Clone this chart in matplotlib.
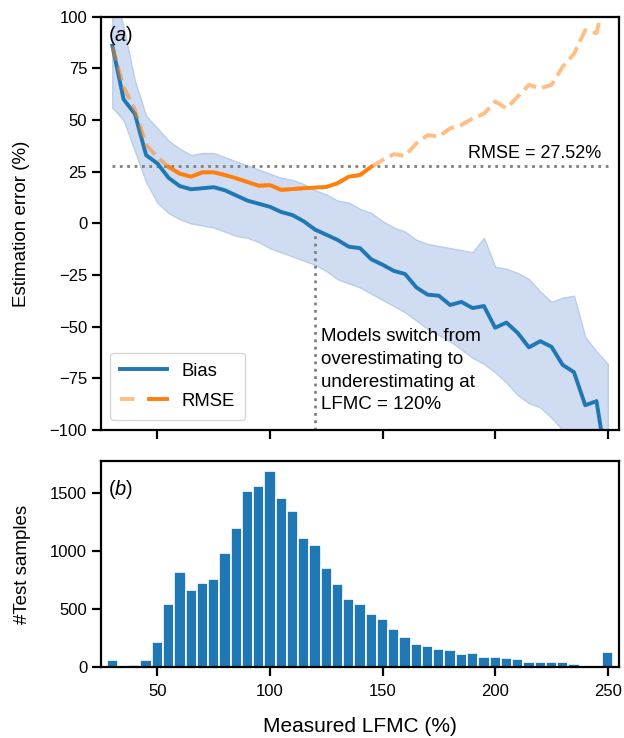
import numpy as np
import matplotlib
matplotlib.use('Agg')
import matplotlib.pyplot as plt
from matplotlib.legend_handler import HandlerTuple

plt.rcParams['font.family'] = ['Liberation Sans', 'DejaVu Sans']
plt.rcParams['mathtext.fontset'] = 'custom'
plt.rcParams['mathtext.rm'] = 'Liberation Sans'
plt.rcParams['mathtext.it'] = 'Liberation Sans:italic'
plt.rcParams['font.size'] = 12

# LFMC bins (centre of each 5% bin)
lfmc = np.arange(30, 255, 5)

bias = [86, 60, 53, 33, 29, 22, 18, 16.5, 17, 17.5, 16, 13.5, 11, 9.5, 8,
        5.5, 4, 1, -3, -5.5, -8, -11.3, -12, -17.4, -20, -23, -24.5, -31,
        -34.5, -35, -39.5, -38, -41, -40, -50.5, -48, -53, -60, -57, -59.7,
        -68.5, -72, -88, -86, -120]
bias_hi = [115, 95, 69, 52, 46, 40, 36, 33, 34, 34, 32, 30, 28, 26, 24, 22,
           21, 19, 16, 14, 11, 10, 7, 5, 1, -2, -4, -8, -10, -11, -12, -13,
           -14, -7, -21, -22, -24, -27, -33, -38, -36, -35, -55, -62, -68]
bias_lo = [56, 50, 35, 20, 10, 5, 2, 0, -1, -2, -4, -6, -7, -9, -12, -14,
           -16, -18, -20, -23, -27, -29, -31, -34, -37, -40, -43, -47, -51,
           -54, -57, -61, -65, -68, -72, -77, -83, -87, -89, -94, -100, -108,
           -115, -120, -130]
rmse = [85.5, 66, 55, 38, 32, 27.3, 24, 22.6, 24.7, 24.7, 23.4, 21.8, 20,
        18.2, 18.5, 16.2, 16.6, 17, 17.3, 17.6, 19.4, 22.6, 23.4, 27.4, 30.6,
        33.5, 32.6, 38.7, 42.7, 42, 46, 47.6, 50.8, 53, 59, 55.6, 61.3, 67,
        65.3, 67, 75.8, 82, 93.5, 92, 115]
counts = [66, 11, 17, 66, 220, 546, 820, 660, 723, 754, 980, 1197, 1509,
          1560, 1686, 1451, 1340, 1109, 1049, 851, 711, 589, 540, 460, 411,
          326, 263, 203, 183, 154, 146, 117, 123, 91, 91, 80, 71, 43, 49, 49,
          43, 29, 11, 6, 129]

overall_rmse = 27.52
switch_lfmc = 120

bias = np.array(bias)
rmse = np.array(rmse)

fig = plt.figure(figsize=(6.24, 7.38), dpi=100)
ax1 = fig.add_axes([0.162, 0.4173, 0.83, 0.5601])
ax2 = fig.add_axes([0.162, 0.0958, 0.83, 0.2795], sharex=ax1)

# (a) bias and RMSE by LFMC bin
ax1.fill_between(lfmc, bias_lo, bias_hi, facecolor='#cfdcf1', edgecolor='#b9cdea', lw=1)
ax1.hlines(overall_rmse, lfmc[0], lfmc[-1], colors='grey', linestyles=':', lw=2)
sw = np.where(lfmc == switch_lfmc)[0][0]
ax1.vlines(switch_lfmc, -100, bias[sw], colors='grey', linestyles=':', lw=2)
bias_line, = ax1.plot(lfmc, bias, color='C0', lw=2.8)
rmse_hi, = ax1.plot(lfmc, rmse, color='C1', alpha=0.5, lw=2.8, ls='--')
rmse_lo, = ax1.plot(lfmc, np.where(rmse <= overall_rmse, rmse, np.nan),
                    color='C1', lw=2.8)
ax1.text(247, overall_rmse + 2, f'RMSE = {overall_rmse}%', ha='right', va='bottom',
         fontsize=13)
ax1.text(switch_lfmc + 2.5, -92,
         'Models switch from\noverestimating to\nunderestimating at\nLFMC = 120%',
         ha='left', va='bottom', fontsize=13.5, linespacing=1.46)
ax1.text(28, 91, r'($a$)', ha='left', va='center', fontsize=14.5)
ax1.set_ylim(-100, 100)
ax1.set_yticks([-100, -75, -50, -25, 0, 25, 50, 75, 100])
ax1.set_ylabel('Estimation error (%)', fontsize=13.5, labelpad=14)
ax1.legend([bias_line, (rmse_hi, rmse_lo)], ['Bias', 'RMSE'],
           handler_map={tuple: HandlerTuple(ndivide=None)},
           loc='lower left', fontsize=13.3, handlelength=2.5, borderpad=0.55,
           labelspacing=0.7, bbox_to_anchor=(0.0, 0.002))
plt.setp(ax1.get_xticklabels(), visible=False)

# (b) number of test samples per bin
ax2.bar(lfmc, counts, width=5, color='C0', edgecolor='white', lw=1.2)
ax2.text(28, 1530, r'($b$)', ha='left', va='center', fontsize=14.5)
ax2.set_xlim(25, 255)
ax2.set_xticks([50, 100, 150, 200, 250])
ax2.set_yticks([0, 500, 1000, 1500])
ax2.set_ylabel('#Test samples', fontsize=13.5, labelpad=14)
ax2.set_xlabel('Measured LFMC (%)', fontsize=15, labelpad=13)

for ax in (ax1, ax2):
    for s in ax.spines.values():
        s.set_linewidth(1.6)
    ax.tick_params(direction='out', length=6.5, width=1.6, labelsize=12)
ax2.tick_params(axis='x', pad=5.5)

fig.savefig('out.png', dpi=100)
